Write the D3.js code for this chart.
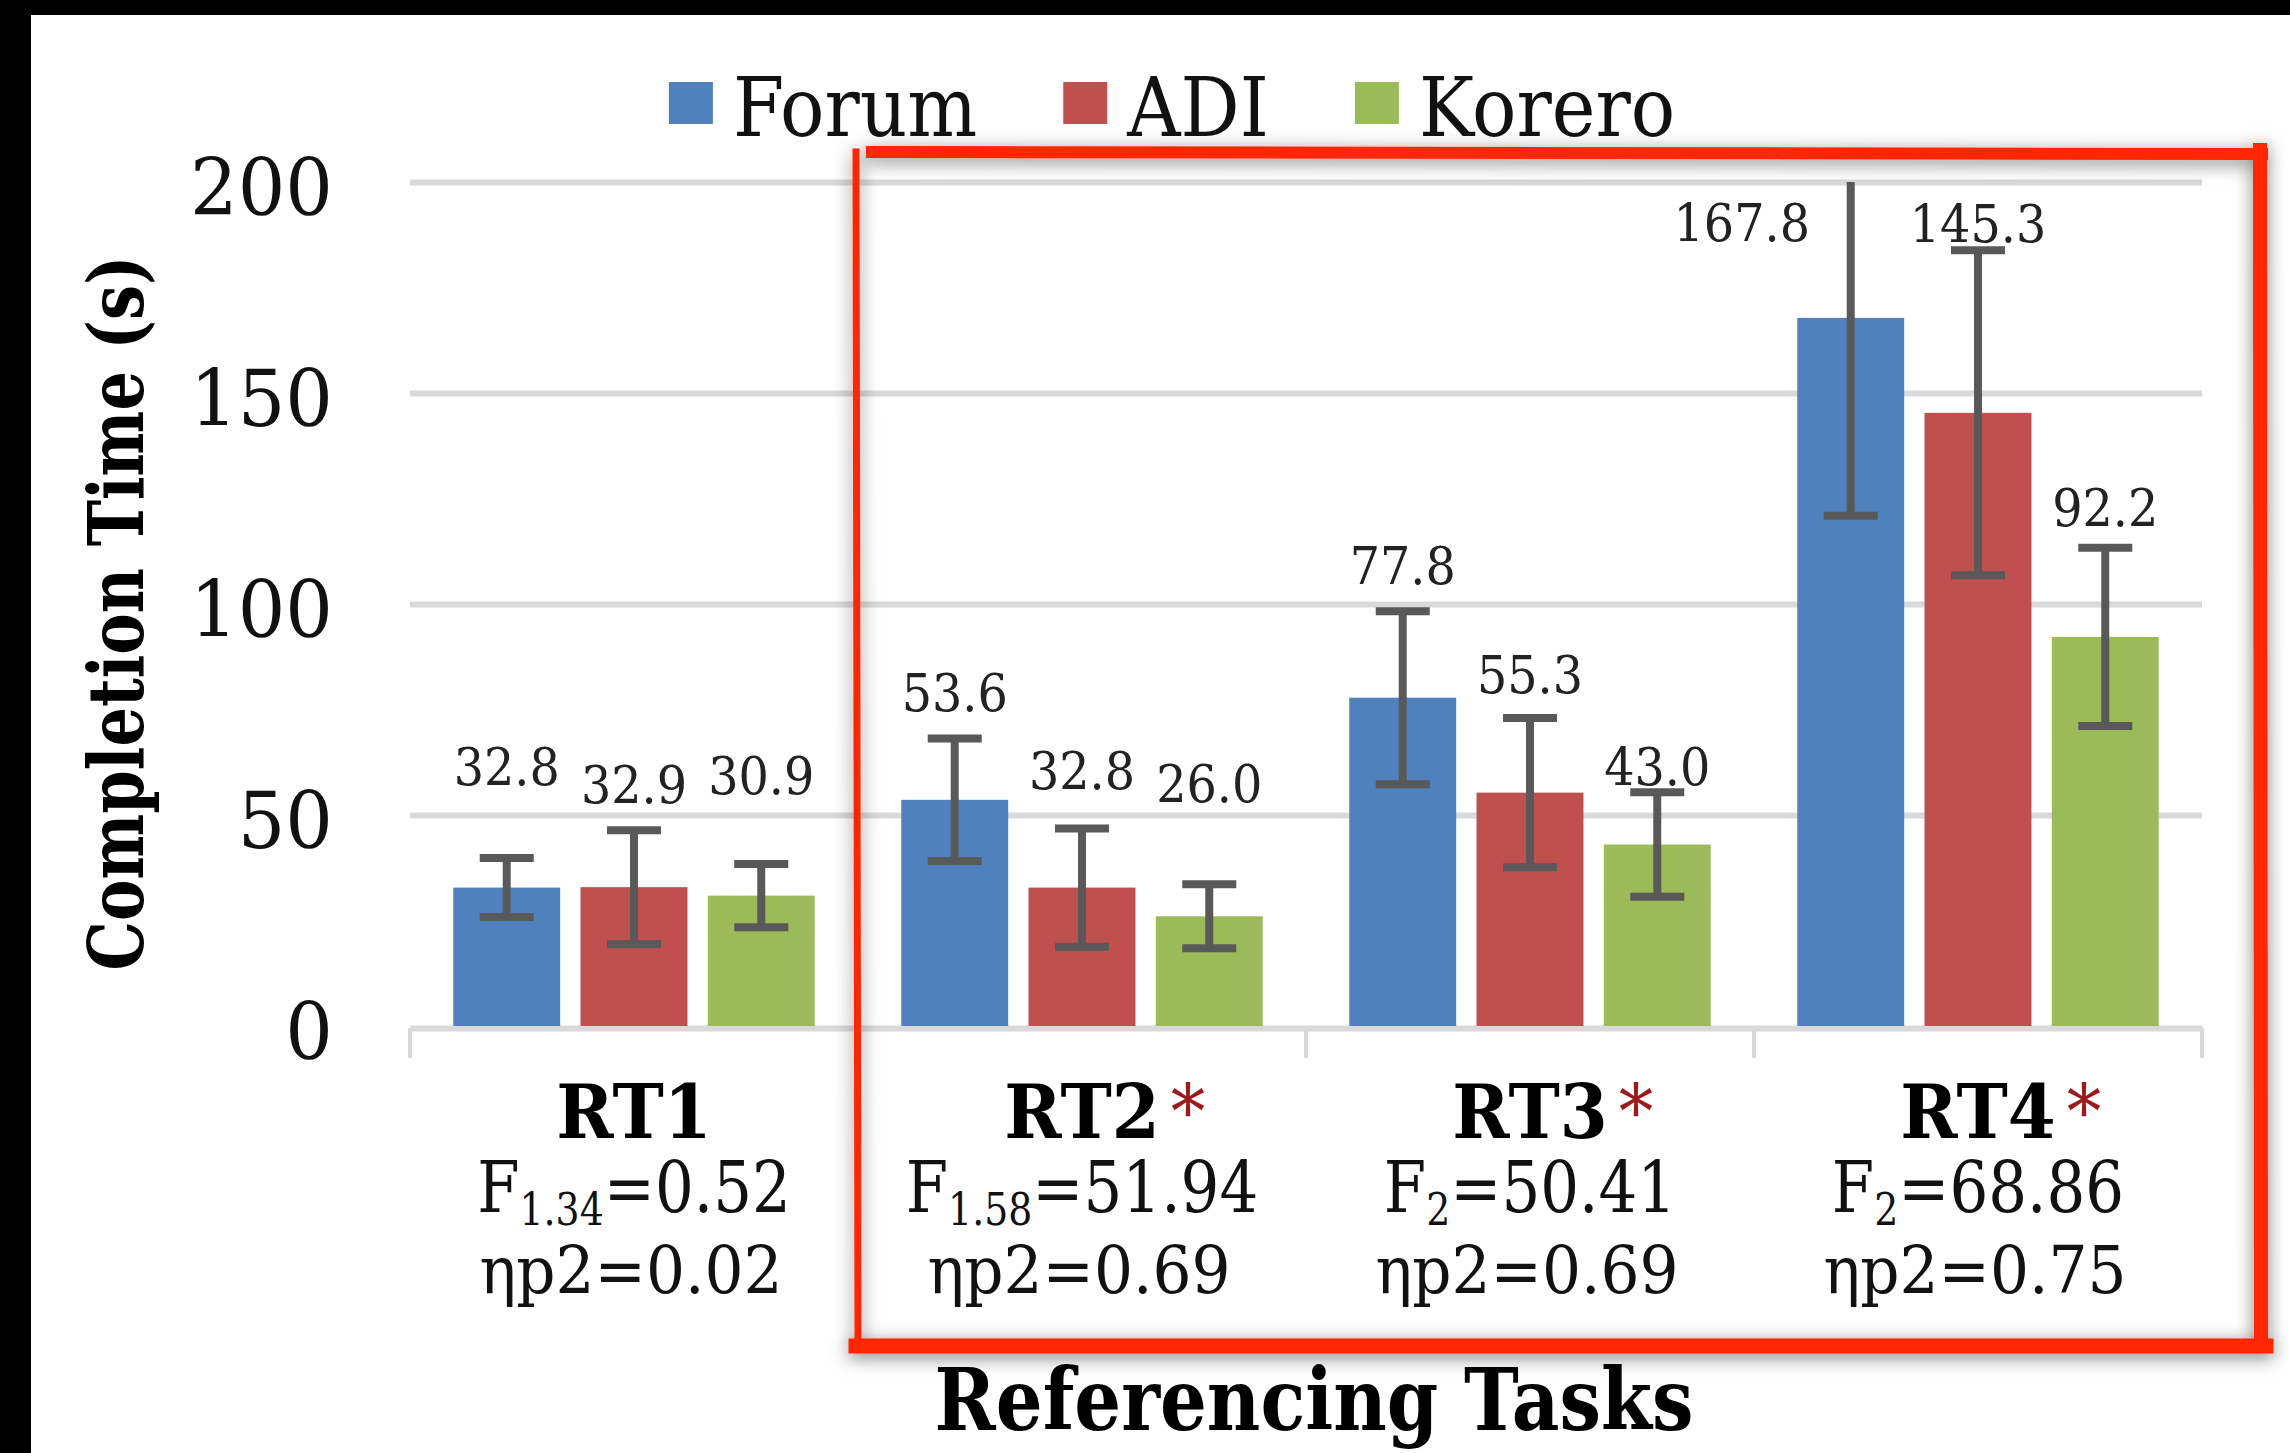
<!DOCTYPE html>
<html>
<head>
<meta charset="utf-8">
<script src="https://cdn.jsdelivr.net/npm/d3@7"></script>
<style>
  html, body { margin: 0; padding: 0; background: #fff; }
  svg { display: block; }
</style>
</head>
<body>
<script>
// ---------------- DATA ----------------
const categories = ["RT1", "RT2", "RT3", "RT4"];
const significant = [false, true, true, true];
const fDf = ["1.34", "1.58", "2", "2"];
const fValues = ["0.52", "51.94", "50.41", "68.86"];
const etaValues = ["0.02", "0.69", "0.69", "0.75"];
const seriesNames = ["Forum", "ADI", "Korero"];
const forumMeans = [32.8, 53.6, 77.8, 167.8];
const adiMeans = [32.9, 32.8, 55.3, 145.3];
const koreroMeans = [30.9, 26.0, 43.0, 92.2];
const forumErr = [7.0, 14.5, 20.5, 46.9];
const adiErr = [13.5, 14.0, 17.7, 38.5];
const koreroErr = [7.5, 7.6, 12.4, 21.1];
const tickValues = [0, 50, 100, 150, 200];
const yTitle = "Completion Time (s)";
const xTitle = "Referencing Tasks";

// ---------------- LAYOUT / STYLE ----------------
const W = 2290, H = 1453;
const colors = ["#4f81bd", "#c0504d", "#9bbb59"];
const FONT = "'DejaVu Serif', serif";
// manual label nudges (pixels, relative to the top of each bar)
const labelDy = [[-122, -108, -133, -96], [-103, -118, -119, -190], [-121, -133, -79, -130]];
const labelDx = [[0, 0, 0, -109], [0, 0, 0, 0], [0, 0, 0, 0]];

const means = [forumMeans, adiMeans, koreroMeans];
const errs = [forumErr, adiErr, koreroErr];

const svg = d3.select("body").append("svg").attr("width", W).attr("height", H);
svg.append("rect").attr("width", W).attr("height", H).attr("fill", "#fff");

const defs = svg.append("defs");
const f = defs.append("filter").attr("id", "shadow").attr("x", "-10%").attr("y", "-10%").attr("width", "120%").attr("height", "120%");
f.append("feDropShadow").attr("dx", 0).attr("dy", 4).attr("stdDeviation", 9)
  .attr("flood-color", "#000").attr("flood-opacity", 0.5);
defs.append("clipPath").attr("id", "plotclip").append("rect")
  .attr("x", 300).attr("y", 182).attr("width", 2000).attr("height", 900);

const plotL = 410, plotR = 2202;
const y = d3.scaleLinear().domain([0, 200]).range([1026, 182]);
const x0 = d3.scaleBand().domain(categories).range([plotL, plotR]);
const x1 = d3.scaleBand().domain(seriesNames).range([0, x0.bandwidth()]).paddingInner(0.16).paddingOuter(0.34);

// helper for slightly condensed text
function label(parent, x, yy, str, o) {
  const g = parent.append("g").attr("transform", `translate(${x},${yy}) scale(${o.sx || 0.9},1)`);
  const t = g.append("text")
    .attr("text-anchor", o.anchor || "middle")
    .attr("font-family", FONT)
    .attr("font-size", o.size)
    .attr("font-weight", o.weight || "normal")
    .attr("fill", o.fill || "#111");
  if (o.dy) t.attr("dy", o.dy);
  if (str !== null) t.text(str);
  return t;
}

// gridlines via axis
const gridAxis = d3.axisLeft(y).tickValues(tickValues.filter(v => v > 0)).tickSize(-(plotR - plotL)).tickFormat("");
const gg = svg.append("g").attr("transform", `translate(${plotL},0)`).call(gridAxis);
gg.select(".domain").remove();
gg.selectAll(".tick line").attr("stroke", "#d9d9d9").attr("stroke-width", 6);

// y tick labels
tickValues.forEach(v => {
  label(svg, 333, y(v) + 5, d3.format("d")(v), { size: 78, sx: 0.96, anchor: "end", dy: "0.36em", fill: "#111" });
});

// x axis
const xAxis = d3.axisBottom(x0).tickSize(0).tickFormat("");
const xg = svg.append("g").attr("transform", `translate(0,${y(0) + 2})`).call(xAxis);
xg.select(".domain").attr("stroke", "#d9d9d9").attr("stroke-width", 6);
const bounds = [plotL].concat(categories.map(c => x0(c) + x0.step()));
svg.selectAll("line.sep").data(bounds).enter().append("line")
  .attr("x1", d => d).attr("x2", d => d)
  .attr("y1", y(0) + 2).attr("y2", y(0) + 32)
  .attr("stroke", "#d9d9d9").attr("stroke-width", 4);

// bars
seriesNames.forEach((s, si) => {
  svg.append("g").selectAll("rect").data(categories).enter().append("rect")
    .attr("x", c => x0(c) + x1(s))
    .attr("width", x1.bandwidth())
    .attr("y", (c, ci) => y(means[si][ci]))
    .attr("height", (c, ci) => y(0) - y(means[si][ci]))
    .attr("fill", colors[si]);
});

// error bars
const eg = svg.append("g").attr("clip-path", "url(#plotclip)");
seriesNames.forEach((s, si) => {
  categories.forEach((c, ci) => {
    const cx = x0(c) + x1(s) + x1.bandwidth() / 2;
    const hi = y(means[si][ci] + errs[si][ci]);
    const lo = y(means[si][ci] - errs[si][ci]);
    eg.append("line").attr("x1", cx).attr("x2", cx).attr("y1", hi).attr("y2", lo)
      .attr("stroke", "#595959").attr("stroke-width", 8);
    [hi, lo].forEach(yy => {
      eg.append("line").attr("x1", cx - 27).attr("x2", cx + 27).attr("y1", yy).attr("y2", yy)
        .attr("stroke", "#595959").attr("stroke-width", 8);
    });
  });
});

// data labels
seriesNames.forEach((s, si) => {
  categories.forEach((c, ci) => {
    const cx = x0(c) + x1(s) + x1.bandwidth() / 2 + labelDx[si][ci];
    label(svg, cx, y(means[si][ci]) + labelDy[si][ci], means[si][ci].toFixed(1),
      { size: 53, sx: 0.9, dy: "0.36em", fill: "#222" });
  });
});

// category labels
categories.forEach((c, ci) => {
  const cx = x0(c) + x0.bandwidth() / 2;
  const t = label(svg, cx, 1138, null, { size: 75, weight: "bold", sx: 0.92, fill: "#000", anchor: "start" });
  const main = t.append("tspan").text(c);
  const w = main.node().getComputedTextLength();
  t.node().parentNode.setAttribute("transform", `translate(${cx - w * 0.92 / 2},1138) scale(0.92,1)`);
  if (significant[ci]) {
    t.append("tspan").attr("dx", 12).attr("font-weight", "normal")
      .attr("fill", "#9b1b1b").text("*");
  }
  const ft = label(svg, cx, 1212, null, { size: 71, sx: 0.86, fill: "#111" });
  ft.append("tspan").text("F");
  ft.append("tspan").attr("font-size", 44).attr("dy", 13).text(fDf[ci]);
  ft.append("tspan").attr("dy", -13).text("=" + fValues[ci]);
  label(svg, cx - 3, 1293, "ηp2=" + etaValues[ci], { size: 66, sx: 0.93, fill: "#111" });
});

// axis titles
const xt = label(svg, 1314, 1430, xTitle, { size: 86, weight: "bold", sx: 1, fill: "#000" });
const xw = xt.node().getComputedTextLength();
xt.node().parentNode.setAttribute("transform", `translate(1314,1430) scale(${759 / xw},1)`);

const ytg = svg.append("g").attr("transform", `translate(143,613) rotate(-90)`);
const yt = ytg.append("text").attr("text-anchor", "middle").attr("font-family", FONT)
  .attr("font-size", 76).attr("font-weight", "bold").attr("fill", "#000").text(yTitle);
const yw = yt.node().getComputedTextLength();
yt.attr("transform", `scale(${715 / yw},1)`);

// legend
const lg = svg.append("g");
let lx = 0;
const itemGap = 86;
seriesNames.forEach((s, si) => {
  lg.append("rect").attr("x", lx).attr("y", 82).attr("width", 44).attr("height", 42).attr("fill", colors[si]);
  const tg = lg.append("g").attr("transform", `translate(${lx + 64},136) scale(0.9,1)`);
  const t = tg.append("text").attr("font-family", FONT).attr("font-size", 82).attr("fill", "#111").text(s);
  lx += 64 + t.node().getComputedTextLength() * 0.9 + itemGap;
});
const lw = lx - itemGap;
lg.attr("transform", `translate(${1172 - lw / 2},0)`);

// red annotation box
const box = svg.append("g").attr("filter", "url(#shadow)").attr("stroke", "#ff2600").attr("fill", "none").attr("stroke-linecap", "square");
box.append("line").attr("x1", 872).attr("y1", 152).attr("x2", 2262).attr("y2", 154).attr("stroke-width", 12);
box.append("line").attr("x1", 856).attr("y1", 152).attr("x2", 858).attr("y2", 1346).attr("stroke-width", 7);
box.append("line").attr("x1", 2260).attr("y1", 150).attr("x2", 2261).attr("y2", 1346).attr("stroke-width", 14);
box.append("line").attr("x1", 856).attr("y1", 1346).attr("x2", 2266).attr("y2", 1346).attr("stroke-width", 15);

// black frame edges
svg.append("rect").attr("x", 0).attr("y", 0).attr("width", W).attr("height", 15).attr("fill", "#000");
svg.append("rect").attr("x", 0).attr("y", 0).attr("width", 31).attr("height", H).attr("fill", "#000");
</script>
</body>
</html>
